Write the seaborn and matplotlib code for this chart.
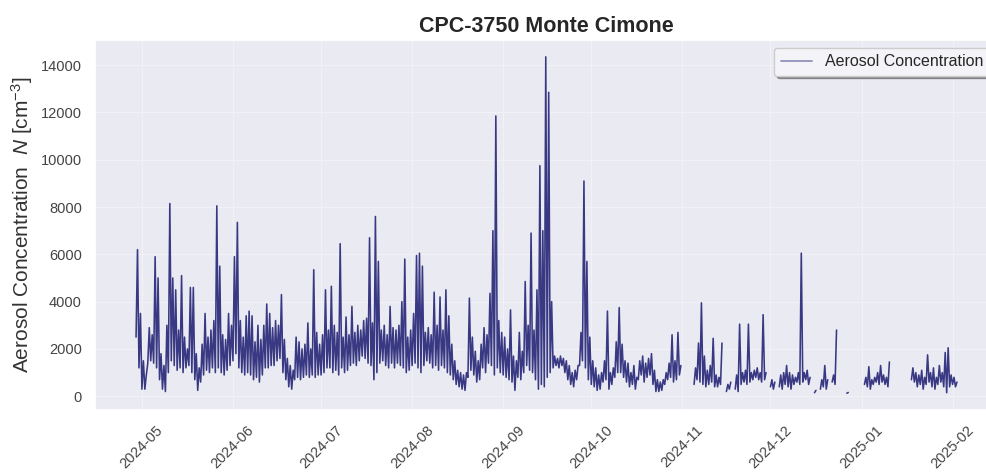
import numpy as np
import pandas as pd
import matplotlib
matplotlib.use('Agg')
import matplotlib.pyplot as plt
import matplotlib.dates as mdates
from matplotlib.lines import Line2D
import seaborn as sns

nan = np.nan

# Daily minimum / maximum concentration (cm^-3)
first_day = '2024-04-29'
april_low = [2500, 1200]
april_high = [6200, 3500]
may_low = [300, 300, 1400, 1500, 1400, 1200, 700, 300, 200, 1000,
           1500, 1300, 1100, 1200, 1000, 1200, 1300, 1000, 700, 250,
           600, 900, 1100, 1000, 1200, 1000, 1200, 1000, 900, 1100, 1300]
may_high = [1500, 900, 2900, 2600, 5900, 5000, 1800, 1300, 3000, 8150,
            5000, 4500, 2800, 5100, 2500, 2000, 4600, 4600, 1800, 1200,
            2200, 3500, 2500, 2800, 3200, 8050, 5500, 2600, 2400, 3500, 3000]
june_low = [1500, 1800, 1200, 1000, 900, 1000, 900, 700, 800, 600,
            900, 1200, 1200, 1300, 1300, 1500, 1600, 1000, 700, 400,
            300, 700, 800, 700, 800, 900, 800, 900, 800, 900]
june_high = [5900, 7350, 3200, 2500, 3400, 3600, 3400, 2300, 3000, 2400,
             3000, 3900, 3500, 2900, 3200, 3000, 4300, 2400, 1600, 1300,
             1100, 2500, 2300, 2000, 2200, 3100, 2000, 5350, 2700, 2200]
july_low = [900, 1000, 1200, 1200, 1000, 1100, 900, 1200, 1000, 1100,
            1300, 1400, 1300, 1500, 1700, 1600, 1400, 1300, 700, 1000,
            1400, 1500, 1300, 1200, 1400, 1200, 1400, 1300, 1200, 1000, 1100]
july_high = [2600, 4500, 2800, 4650, 3000, 2700, 6450, 2500, 3350, 2600,
             3800, 2700, 3000, 2800, 3200, 3300, 6700, 3100, 7600, 5700,
             2800, 3000, 2600, 3800, 2900, 2800, 3000, 4000, 5800, 2500, 2800]
august_low = [1300, 1400, 1200, 1000, 1300, 1500, 1400, 1200, 1300, 1100,
              1300, 1200, 1000, 900, 700, 500, 400, 300, 250, 800,
              1100, 900, 600, 700, 1200, 1000, 1400, 1300, 900, 1200, 1000]
august_high = [3500, 5950, 6050, 5500, 2700, 2900, 2600, 4400, 3000, 4200,
               2800, 4500, 3400, 2200, 1500, 1100, 1000, 900, 1000, 4150,
               2500, 1900, 1500, 2200, 2900, 2600, 4350, 7000, 11850, 3200, 2700]
september_low = [900, 800, 700, 600, 250, 800, 700, 1000, 1300, 1100,
                 1000, 700, 300, 500, 400, 800, 1000, 1200, 1300, 1200,
                 1300, 1000, 700, 500, 400, 700, 1300, 1500, 1200, 700]
september_high = [2500, 2000, 3650, 1700, 1500, 2700, 1900, 4850, 3000, 6900,
                  2800, 4500, 9750, 7000, 14350, 12850, 4000, 1700, 1600, 1700,
                  1600, 1500, 1300, 1000, 1100, 1300, 2700, 9100, 5700, 2500]
october_low = [500, 400, 250, 300, 600, 700, 300, 500, 800, 1000,
               1000, 800, 600, 400, 500, 300, 700, 900, 600, 800,
               900, 500, 200, 200, 250, 500, 700, 800, 600, 700, 900]
october_high = [1500, 1200, 900, 1000, 1500, 3600, 1000, 1200, 2300, 3750,
                2200, 1500, 1400, 1000, 1300, 800, 1500, 1700, 1400, 1600,
                1800, 1100, 700, 600, 700, 1000, 1400, 2600, 1500, 2700, 1300]
november_low = [nan, nan, nan, nan, 500, 700, 600, 500, 400, 500,
                600, 400, 400, 500, nan, 200, 300, nan, 300, 200,
                500, 600, 500, 600, 700, 800, 700, 600, 700, nan]
november_high = [nan, nan, nan, nan, 1200, 2250, 3950, 1700, 1100, 1300,
                 2450, 900, 800, 2250, nan, 500, 600, nan, 900, 3050,
                 1000, 1100, 3050, 1000, 1100, 1200, 1000, 3450, 1000, nan]
december_low = [400, 300, nan, 400, 300, 500, 400, 300, 500, 600,
                500, 600, 700, 500, nan, 150, nan, 300, 400, 300,
                nan, 600, 500, nan, nan, nan, 130, nan, nan, nan, nan]
december_high = [700, 600, nan, 900, 1000, 1300, 1000, 900, 800, 1000,
                 6050, 1000, 1100, 800, nan, 250, nan, 700, 1300, 700,
                 nan, 900, 2800, nan, nan, nan, 160, nan, nan, nan, nan]
january_low = [nan, 500, 400, 300, 500, 600, 500, 600, 500, 400,
               nan, nan, nan, nan, nan, nan, nan, 700, 600, 400,
               500, 300, 500, 600, 400, 300, 500, 600, 400, 150, 400]
january_high = [nan, 800, 1250, 700, 800, 1000, 1300, 900, 800, 1450,
                nan, nan, nan, nan, nan, nan, nan, 1200, 1000, 900,
                1100, 800, 1750, 1000, 1200, 800, 1300, 1000, 1850, 2050, 900]
february_low = [500, 400]
february_high = [800, 600]

daily_low = (april_low + may_low + june_low + july_low + august_low + september_low
             + october_low + november_low + december_low + january_low + february_low)
daily_high = (april_high + may_high + june_high + july_high + august_high + september_high
              + october_high + november_high + december_high + january_high + february_high)

days = pd.date_range(first_day, periods=len(daily_low), freq='D')
lows = pd.DataFrame({'time': days, 'N': daily_low})
highs = pd.DataFrame({'time': days + pd.Timedelta(hours=12), 'N': daily_high})
df = pd.concat([lows, highs]).sort_values('time').reset_index(drop=True)
# break the line where data are missing
df['segment'] = df['N'].isna().cumsum()
df = df.dropna()

sns.set_theme(style='darkgrid', rc={'grid.color': '#f1f1f6', 'grid.linewidth': 0.8})
plt.rcParams['font.family'] = ['Liberation Sans', 'DejaVu Sans']
plt.rcParams['mathtext.fontset'] = 'custom'
plt.rcParams['mathtext.rm'] = 'Liberation Sans'
plt.rcParams['mathtext.it'] = 'Liberation Sans:italic'

fig = plt.figure(figsize=(9.86, 4.73), dpi=100)
ax = fig.add_axes([95 / 986, 63 / 473, 903 / 986, 370 / 473])

line_color = '#191970'
sns.lineplot(data=df, x='time', y='N', units='segment', estimator=None,
             color=line_color, linewidth=1.15, alpha=0.85, ax=ax, legend=False)

ax.set_title('CPC-3750 Monte Cimone', fontsize=15.5, fontweight='bold')
ax.set_xlabel('')
ax.set_ylabel('Aerosol Concentration  $N$ [cm$^{-3}$]', fontsize=15, color='#333333')
ax.xaxis.set_major_locator(mdates.MonthLocator())
ax.xaxis.set_major_formatter(mdates.DateFormatter('%Y-%m'))
ax.tick_params(axis='both', labelsize=10.5, labelcolor='#444444')
plt.setp(ax.get_xticklabels(), rotation=45)

handle = Line2D([0], [0], color=line_color, alpha=0.45, linewidth=1.3)
ax.legend(handles=[handle], labels=['Aerosol Concentration'], loc='upper right',
          fontsize=11.5, shadow=True, frameon=True, facecolor='#f4f4f8', framealpha=1.0)

fig.savefig('out.png', dpi=100)
plt.close(fig)
